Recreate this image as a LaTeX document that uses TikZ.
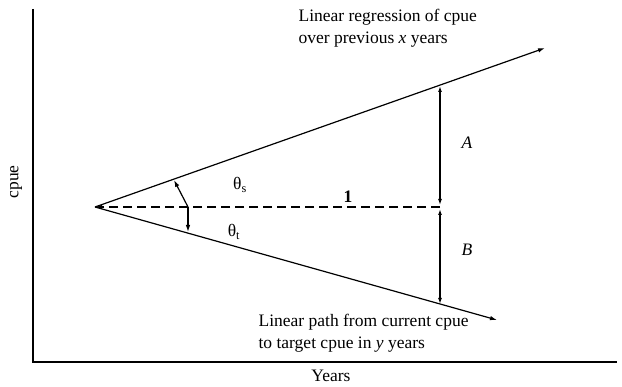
\documentclass[tikz,border=0pt]{standalone}
\usepackage{fontspec}
\setmainfont{Liberation Serif}
\usetikzlibrary{arrows.meta}
\begin{document}
\begin{tikzpicture}[x=1pt,y=-1pt, line width=1.2pt,
  tip/.style={-{Latex[length=7pt,width=4.5pt]}},
  dtip/.style={{Latex[length=6pt,width=4pt]}-{Latex[length=6pt,width=4pt]}},
  lbl/.style={font=\fontsize{17.5}{21.5}\selectfont, inner sep=0pt}]
\useasboundingbox (0,0) rectangle (622,387);
\coordinate (ytop) at (33,9);
\coordinate (orig) at (33,362);
\coordinate (xend) at (617,362);
\draw[line width=1.3pt] (ytop) -- (orig) -- (xend);
\coordinate (apex) at (95,207);
\coordinate (upend) at (545,48);
\coordinate (loend) at (497,320);
\coordinate (dend) at (440,207);
\coordinate (Atop) at (440,86);
\coordinate (Abot) at (440,205);
\coordinate (Btop) at (440,209);
\coordinate (Bbot) at (440,304);
\coordinate (s0) at (188,207);
\coordinate (s1) at (174,180);
\coordinate (t1) at (188,232);
\draw[tip] (apex) -- (upend);
\draw[tip] (apex) -- (loend);
\draw[tip, dashed, dash pattern=on 9pt off 5pt] (dend) -- (apex);
\draw[dtip] (Abot) -- (Atop);
\draw[dtip] (Btop) -- (Bbot);
\draw[tip] (s0) -- (s1);
\draw[tip] (s0) -- (t1);
\node[lbl, anchor=west, align=left] (up) at (298,28) {Linear regression of cpue\\over previous \textit{x} years};
\node[lbl, anchor=west, align=left] (lo) at (258,333) {Linear path from current cpue\\to target cpue in \textit{y} years};
\node[lbl] (A) at (467,143) {\textit{A}};
\node[lbl] (B) at (467,250) {\textit{B}};
\node[lbl] (one) at (348,197) {\textbf{1}};
\node[lbl] (ths) at (240,185) {θ\textsubscript{s}};
\node[lbl] (tht) at (234,232) {θ\textsubscript{t}};
\node[lbl, rotate=90] (cpue) at (16,182) {cpue};
\node[lbl] (years) at (331,376) {Years};
\end{tikzpicture}
\end{document}
